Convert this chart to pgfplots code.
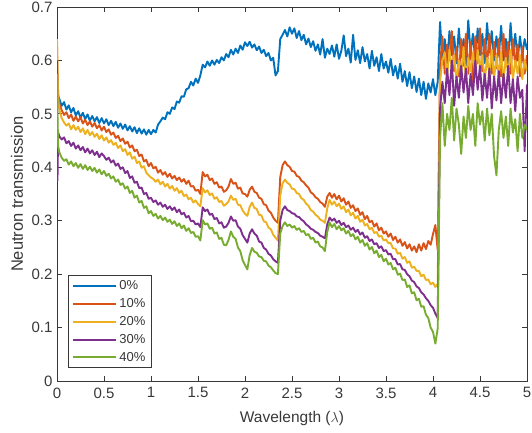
\documentclass[border=0pt]{standalone}
\usepackage{pgfplots}
\pgfplotsset{compat=1.18}
\usepackage{pgfplotstable}
\usepackage{fontspec}
\setmainfont{Liberation Sans}
\definecolor{cB}{rgb}{0,0.447,0.741}
\definecolor{cO}{rgb}{0.850,0.325,0.098}
\definecolor{cY}{rgb}{0.929,0.694,0.125}
\definecolor{cP}{rgb}{0.494,0.184,0.556}
\definecolor{cG}{rgb}{0.466,0.674,0.188}
\definecolor{axgray}{gray}{0.22}

\pgfplotstableread{
x b o y p g
0 0.575 0.630 0.640 0.600 0.575
0.005 0.545 0.580 0.590 0.375 0.500
0.012 0.532 0.540 0.530 0.465 0.440
0.025 0.528 0.518 0.508 0.458 0.428
0.05 0.515 0.507 0.492 0.452 0.418
0.075 0.522 0.498 0.484 0.456 0.412
0.1 0.508 0.503 0.478 0.445 0.415
0.125 0.516 0.492 0.482 0.449 0.405
0.15 0.503 0.499 0.471 0.440 0.411
0.175 0.511 0.487 0.479 0.446 0.402
0.2 0.497 0.495 0.470 0.435 0.408
0.225 0.505 0.486 0.476 0.441 0.399
0.25 0.493 0.494 0.466 0.432 0.406
0.275 0.502 0.482 0.473 0.438 0.397
0.3 0.490 0.489 0.462 0.428 0.404
0.325 0.499 0.479 0.470 0.435 0.395
0.35 0.487 0.486 0.460 0.426 0.401
0.375 0.496 0.476 0.466 0.432 0.393
0.4 0.486 0.483 0.457 0.423 0.399
0.425 0.494 0.473 0.463 0.429 0.390
0.45 0.483 0.479 0.453 0.419 0.396
0.475 0.492 0.469 0.460 0.426 0.387
0.5 0.482 0.476 0.450 0.421 0.393
0.525 0.490 0.466 0.456 0.414 0.384
0.55 0.479 0.471 0.446 0.418 0.388
0.575 0.487 0.461 0.451 0.409 0.379
0.6 0.477 0.465 0.442 0.413 0.383
0.625 0.485 0.455 0.446 0.403 0.373
0.65 0.474 0.459 0.436 0.407 0.377
0.675 0.482 0.449 0.441 0.397 0.367
0.7 0.472 0.454 0.430 0.400 0.370
0.725 0.480 0.444 0.434 0.389 0.360
0.75 0.469 0.448 0.423 0.393 0.364
0.775 0.477 0.437 0.428 0.380 0.352
0.8 0.467 0.441 0.416 0.383 0.356
0.825 0.475 0.430 0.420 0.371 0.343
0.85 0.464 0.433 0.408 0.373 0.347
0.875 0.473 0.421 0.411 0.361 0.334
0.9 0.463 0.424 0.399 0.362 0.337
0.925 0.471 0.411 0.402 0.350 0.324
0.95 0.461 0.414 0.390 0.352 0.327
0.975 0.470 0.402 0.385 0.341 0.314
1.0 0.462 0.408 0.381 0.343 0.318
1.025 0.470 0.398 0.378 0.335 0.309
1.05 0.465 0.401 0.373 0.338 0.313
1.075 0.480 0.390 0.377 0.330 0.304
1.1 0.486 0.395 0.368 0.334 0.309
1.125 0.493 0.386 0.373 0.326 0.301
1.15 0.490 0.391 0.364 0.330 0.306
1.175 0.503 0.382 0.369 0.322 0.298
1.2 0.500 0.388 0.360 0.327 0.302
1.225 0.512 0.379 0.365 0.320 0.294
1.25 0.509 0.384 0.356 0.325 0.299
1.275 0.523 0.376 0.361 0.316 0.290
1.3 0.521 0.381 0.352 0.321 0.295
1.325 0.533 0.373 0.356 0.312 0.286
1.35 0.532 0.378 0.346 0.315 0.291
1.375 0.546 0.369 0.349 0.306 0.281
1.4 0.548 0.375 0.340 0.309 0.286
1.425 0.560 0.364 0.343 0.299 0.277
1.45 0.553 0.365 0.334 0.300 0.279
1.475 0.566 0.356 0.338 0.293 0.270
1.5 0.558 0.358 0.331 0.295 0.271
1.525 0.572 0.350 0.327 0.288 0.263
1.55 0.592 0.391 0.361 0.325 0.301
1.575 0.587 0.383 0.353 0.318 0.293
1.6 0.598 0.386 0.357 0.321 0.295
1.625 0.590 0.376 0.348 0.311 0.285
1.65 0.600 0.379 0.351 0.313 0.287
1.675 0.592 0.369 0.341 0.303 0.276
1.7 0.601 0.372 0.344 0.305 0.278
1.725 0.595 0.362 0.335 0.295 0.266
1.75 0.606 0.364 0.337 0.297 0.268
1.775 0.600 0.354 0.328 0.287 0.255
1.8 0.612 0.357 0.331 0.289 0.254
1.825 0.606 0.364 0.336 0.296 0.264
1.85 0.620 0.378 0.347 0.308 0.280
1.875 0.611 0.369 0.339 0.300 0.270
1.9 0.622 0.371 0.341 0.301 0.266
1.925 0.614 0.360 0.330 0.289 0.250
1.95 0.628 0.362 0.329 0.285 0.243
1.975 0.620 0.351 0.319 0.273 0.226
2.0 0.634 0.350 0.313 0.266 0.217
2.025 0.627 0.345 0.309 0.259 0.209
2.05 0.635 0.358 0.326 0.276 0.236
2.075 0.624 0.364 0.334 0.284 0.249
2.1 0.630 0.354 0.324 0.276 0.242
2.125 0.619 0.352 0.322 0.272 0.240
2.15 0.626 0.343 0.311 0.261 0.233
2.175 0.614 0.341 0.310 0.259 0.232
2.2 0.620 0.331 0.299 0.249 0.225
2.225 0.608 0.329 0.297 0.246 0.224
2.25 0.614 0.319 0.287 0.238 0.216
2.275 0.600 0.315 0.284 0.235 0.213
2.3 0.605 0.306 0.274 0.228 0.207
2.325 0.572 0.300 0.268 0.224 0.202
2.35 0.580 0.296 0.263 0.221 0.200
2.375 0.640 0.382 0.347 0.300 0.276
2.4 0.648 0.404 0.370 0.320 0.290
2.425 0.657 0.411 0.377 0.327 0.297
2.45 0.645 0.404 0.371 0.320 0.290
2.475 0.662 0.401 0.368 0.318 0.293
2.5 0.650 0.393 0.360 0.314 0.287
2.525 0.660 0.392 0.359 0.313 0.290
2.55 0.642 0.384 0.352 0.308 0.283
2.575 0.655 0.382 0.350 0.307 0.286
2.6 0.638 0.375 0.342 0.302 0.279
2.625 0.648 0.372 0.339 0.299 0.281
2.65 0.630 0.366 0.332 0.293 0.273
2.675 0.641 0.362 0.328 0.290 0.275
2.7 0.625 0.353 0.320 0.285 0.266
2.725 0.636 0.350 0.317 0.283 0.268
2.75 0.618 0.344 0.311 0.279 0.259
2.775 0.630 0.341 0.308 0.277 0.261
2.8 0.611 0.335 0.302 0.272 0.252
2.825 0.640 0.332 0.300 0.270 0.250
2.85 0.605 0.326 0.296 0.267 0.243
2.875 0.622 0.345 0.323 0.293 0.279
2.9 0.612 0.352 0.339 0.306 0.297
2.925 0.628 0.343 0.330 0.300 0.288
2.95 0.607 0.350 0.336 0.304 0.294
2.975 0.630 0.340 0.327 0.296 0.284
3.0 0.603 0.347 0.332 0.300 0.290
3.025 0.618 0.336 0.322 0.292 0.282
3.05 0.647 0.342 0.327 0.296 0.286
3.075 0.608 0.330 0.316 0.288 0.276
3.1 0.622 0.336 0.321 0.291 0.281
3.125 0.596 0.324 0.310 0.283 0.271
3.15 0.648 0.329 0.315 0.287 0.275
3.175 0.601 0.318 0.304 0.279 0.265
3.2 0.619 0.323 0.309 0.283 0.270
3.225 0.595 0.311 0.298 0.274 0.259
3.25 0.625 0.316 0.302 0.278 0.264
3.275 0.598 0.303 0.291 0.268 0.253
3.3 0.612 0.309 0.294 0.271 0.258
3.325 0.585 0.297 0.284 0.262 0.246
3.35 0.618 0.300 0.287 0.265 0.251
3.375 0.590 0.289 0.277 0.256 0.239
3.4 0.606 0.295 0.279 0.258 0.244
3.425 0.580 0.282 0.270 0.249 0.232
3.45 0.612 0.287 0.272 0.252 0.236
3.475 0.585 0.276 0.263 0.243 0.224
3.5 0.598 0.280 0.265 0.245 0.229
3.525 0.577 0.270 0.258 0.237 0.218
3.55 0.603 0.276 0.258 0.238 0.221
3.575 0.572 0.264 0.248 0.228 0.209
3.6 0.590 0.270 0.248 0.228 0.212
3.625 0.566 0.259 0.238 0.218 0.199
3.65 0.594 0.265 0.240 0.219 0.201
3.675 0.560 0.253 0.229 0.209 0.189
3.7 0.580 0.260 0.232 0.208 0.190
3.725 0.552 0.248 0.221 0.200 0.176
3.75 0.578 0.256 0.224 0.196 0.179
3.775 0.548 0.244 0.212 0.188 0.164
3.8 0.570 0.252 0.214 0.185 0.166
3.825 0.541 0.241 0.206 0.177 0.151
3.85 0.566 0.256 0.206 0.174 0.154
3.875 0.535 0.244 0.196 0.166 0.139
3.9 0.560 0.258 0.199 0.162 0.140
3.925 0.528 0.247 0.189 0.155 0.124
3.95 0.557 0.262 0.190 0.150 0.118
3.975 0.540 0.255 0.181 0.142 0.100
4.0 0.565 0.275 0.184 0.137 0.092
4.025 0.535 0.292 0.176 0.126 0.070
4.05 0.560 0.245 0.182 0.118 0.098
4.075 0.672 0.590 0.560 0.510 0.455
4.1 0.600 0.645 0.600 0.560 0.520
4.125 0.640 0.575 0.615 0.520 0.440
4.15 0.590 0.630 0.570 0.585 0.500
4.175 0.655 0.600 0.620 0.535 0.470
4.2 0.610 0.655 0.585 0.600 0.530
4.225 0.645 0.580 0.610 0.515 0.450
4.25 0.595 0.625 0.560 0.570 0.510
4.275 0.660 0.570 0.600 0.530 0.480
4.3 0.605 0.640 0.575 0.590 0.425
4.325 0.640 0.590 0.625 0.540 0.495
4.35 0.590 0.650 0.565 0.585 0.455
4.375 0.675 0.575 0.605 0.520 0.515
4.4 0.615 0.635 0.580 0.575 0.470
4.425 0.650 0.560 0.615 0.535 0.500
4.45 0.600 0.645 0.570 0.600 0.440
4.475 0.660 0.595 0.620 0.545 0.520
4.5 0.610 0.660 0.585 0.590 0.480
4.525 0.650 0.580 0.610 0.525 0.505
4.55 0.595 0.640 0.560 0.575 0.450
4.575 0.670 0.590 0.605 0.530 0.510
4.6 0.615 0.650 0.575 0.585 0.460
4.625 0.655 0.575 0.620 0.510 0.500
4.65 0.600 0.635 0.565 0.570 0.420
4.675 0.645 0.585 0.610 0.525 0.385
4.7 0.610 0.640 0.570 0.580 0.470
4.725 0.665 0.570 0.615 0.520 0.505
4.75 0.600 0.650 0.560 0.575 0.455
4.775 0.640 0.590 0.605 0.530 0.495
4.8 0.590 0.635 0.575 0.590 0.440
4.825 0.670 0.575 0.620 0.520 0.510
4.85 0.610 0.640 0.565 0.565 0.465
4.875 0.650 0.590 0.600 0.505 0.490
4.9 0.600 0.630 0.575 0.570 0.430
4.925 0.645 0.570 0.610 0.530 0.500
4.95 0.610 0.625 0.565 0.545 0.455
4.975 0.640 0.575 0.600 0.430 0.480
5.0 0.620 0.610 0.580 0.555 0.470
}\data

\begin{document}
\begin{tikzpicture}
\useasboundingbox (-57pt,-51pt) rectangle (475pt,381pt);
\begin{axis}[
  at={(0pt,0pt)}, anchor=south west,
  scale only axis, width=470pt, height=374pt,
  xmin=0, xmax=5, ymin=0, ymax=0.7,
  xtick={0,0.5,1,1.5,2,2.5,3,3.5,4,4.5,5},
  xticklabels={0,0.5,1,1.5,2,2.5,3,3.5,4,4.5,5},
  ytick={0,0.1,0.2,0.3,0.4,0.5,0.6,0.7},
  yticklabels={0,0.1,0.2,0.3,0.4,0.5,0.6,0.7},
  tick align=inside, xtick pos=both, ytick pos=both,
  major tick length=5pt,
  axis line style={axgray, line width=0.8pt},
  every tick/.style={axgray, line width=0.8pt},
  tick label style={font=\fontsize{15}{17}\selectfont, text=black!78},
  xticklabel style={yshift=-3pt},
  yticklabel style={xshift=-1pt},
  xlabel={Wavelength ($\lambda$)},
  ylabel={Neutron transmission},
  every axis x label/.style={at={(axis description cs:0.5,-0.099)}, anchor=center,
    font=\fontsize{15.5}{17}\selectfont, text=black!78},
  every axis y label/.style={at={(axis description cs:-0.085,0.5)}, anchor=center, rotate=90,
    font=\fontsize{16.5}{18}\selectfont, text=black!78},
  legend style={at={(axis description cs:0.0234,0.0348)}, anchor=south west,
    draw=axgray, line width=0.6pt, fill=white,
    font=\fontsize{13}{15}\selectfont, text=black!78,
    inner xsep=4pt, inner ysep=3pt, row sep=3.3pt},
  legend cell align=left,
  legend image code/.code={\draw[#1, line width=2pt] (0pt,0pt) -- (43pt,0pt);},
]
\addplot[cB, line width=1.9pt, line join=round] table[x=x,y=b] {\data};
\addplot[cO, line width=1.9pt, line join=round] table[x=x,y=o] {\data};
\addplot[cY, line width=1.9pt, line join=round] table[x=x,y=y] {\data};
\addplot[cP, line width=1.9pt, line join=round] table[x=x,y=p] {\data};
\addplot[cG, line width=1.9pt, line join=round] table[x=x,y=g] {\data};
\legend{0\%,10\%,20\%,30\%,40\%}
\end{axis}
\end{tikzpicture}
\end{document}
